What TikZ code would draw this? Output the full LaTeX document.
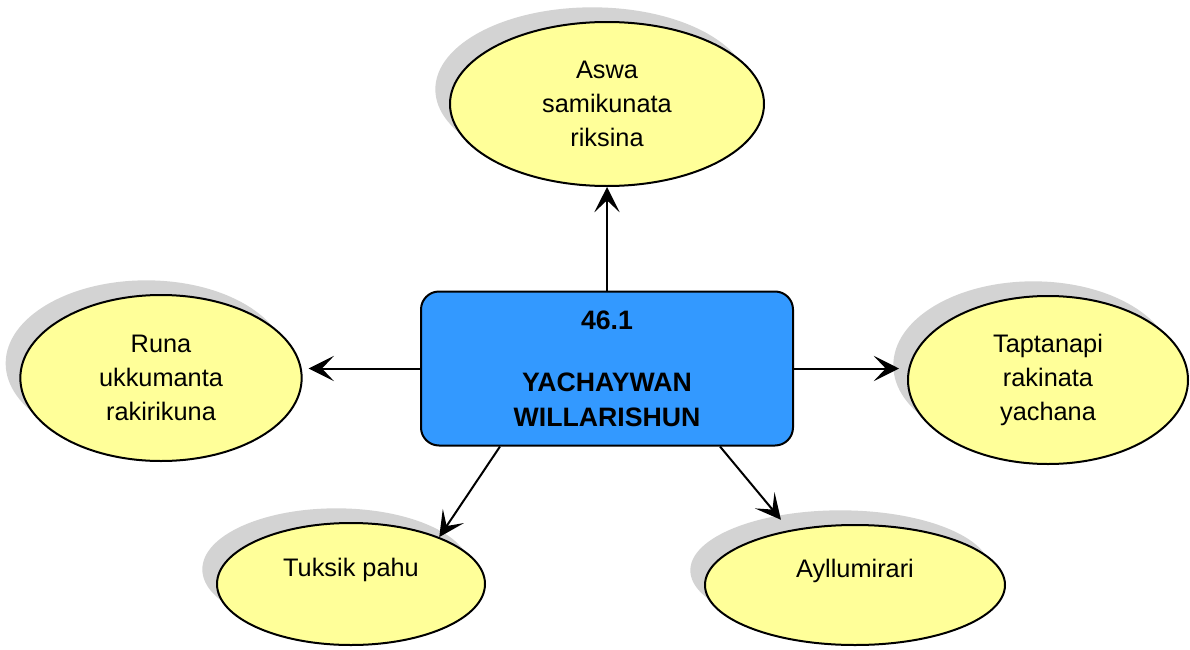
\documentclass[tikz,border=0pt]{standalone}
\usepackage{fontspec}
\setmainfont{Liberation Sans}
\usetikzlibrary{arrows.meta,shapes.geometric,shadows}
\definecolor{bubble}{RGB}{255,255,153}
\definecolor{boxblue}{RGB}{51,153,255}
\definecolor{shadowgray}{RGB}{211,211,211}
\tikzset{
  bubble/.style={ellipse, draw=black, line width=1.5pt, fill=bubble, inner sep=0pt,
    align=center, font=\fontsize{19}{25.5}\selectfont,
    general shadow={shadow xshift=-11pt, shadow yshift=11pt, fill=shadowgray, draw=none}},
  centerbox/.style={rectangle, rounded corners=13.5pt, draw=black, line width=1.5pt,
    fill=boxblue, align=center, inner sep=0pt,
    font=\fontsize{20}{26}\selectfont\bfseries},
  arr/.style={line width=1.5pt, -{Stealth[length=19pt, width=19pt, inset=9pt]}}
}
\begin{document}
\begin{tikzpicture}[x=0.75pt,y=-0.75pt]
\useasboundingbox (0,0) rectangle (1190,650);
\node[bubble, minimum width=235.5pt, minimum height=123pt] (top) at (607,104) {Aswa\\samikunata\\riksina};
\node[bubble, minimum width=211pt, minimum height=124.5pt] (lt) at (161,378) {Runa\\ukkumanta\\rakirikuna};
\node[bubble, minimum width=210pt, minimum height=126pt] (rt) at (1048,380) {Taptanapi\\rakinata\\yachana};
\node[bubble, minimum width=201pt, minimum height=91.5pt] (bl) at (351,584) {Tuksik pahu\\\mbox{}};
\node[bubble, minimum width=225pt, minimum height=90pt] (br) at (855,585) {Ayllumirari\\\mbox{}};
\node[centerbox, minimum width=279pt, minimum height=115.5pt] (box) at (607,368.5)
  {46.1\\[21pt]YACHAYWAN\\WILLARISHUN};
\draw[arr] (box.north) -- (top.south);
\draw[arr, shorten >=4.5pt] (box.west) -- (box.west -| lt.east);
\draw[arr, shorten >=6pt] (box.east) -- (box.east -| rt.west);
\draw[arr] ([xshift=-80.25pt]box.south) -- (bl.28);
\draw[arr, shorten >=10pt] ([xshift=84.75pt]box.south) -- (br.140);
\end{tikzpicture}
\end{document}
